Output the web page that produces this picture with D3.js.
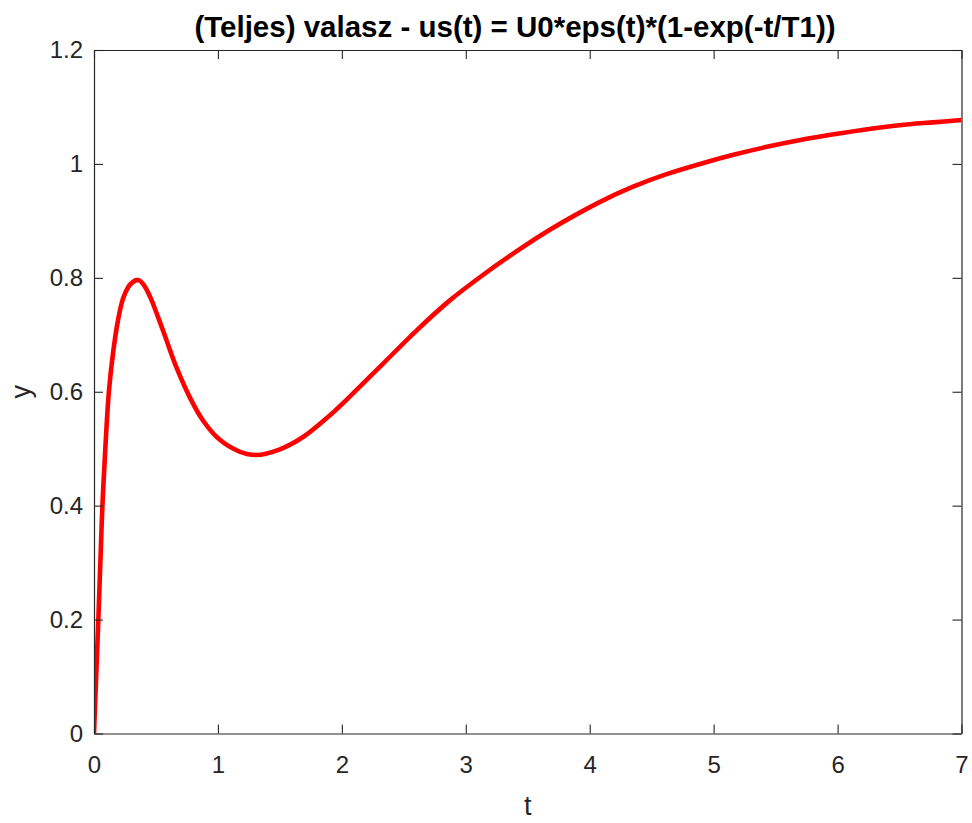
<!DOCTYPE html>
<html>
<head>
<meta charset="utf-8">
<script src="https://cdn.jsdelivr.net/npm/d3@7"></script>
<style>
  html, body { margin: 0; padding: 0; background: #fff; }
  svg { display: block; }
  text { font-family: "Liberation Sans", Arial, Helvetica, sans-serif; fill: #262626; }
</style>
</head>
<body>
<svg id="chart" width="972" height="823"></svg>
<script>
// ---- data ----
const tValues = [0, 0.006, 0.035, 0.052, 0.068, 0.09, 0.12, 0.153, 0.194, 0.235, 0.28, 0.31, 0.342, 0.37, 0.40,
  0.452, 0.556, 0.663, 0.771, 0.878, 1.013, 1.174, 1.309, 1.5, 1.69, 1.90, 2.062, 2.331,
  2.60, 2.869, 3.138, 3.406, 3.675, 4.08, 4.35, 4.62, 4.89, 5.16, 5.43, 5.70, 5.97,
  6.24, 6.50, 6.77, 7.0];
const yValues = [0, 0.035, 0.2, 0.305, 0.4, 0.495, 0.6, 0.667, 0.726, 0.764, 0.785, 0.792, 0.796, 0.795, 0.788,
  0.767, 0.708, 0.644, 0.591, 0.550, 0.516, 0.495, 0.489, 0.499, 0.521, 0.558, 0.591, 0.649,
  0.707, 0.760, 0.805, 0.846, 0.884, 0.933, 0.960, 0.982, 1.000, 1.016, 1.030, 1.042, 1.052,
  1.061, 1.068, 1.073, 1.077];
const xTicks = [0, 1, 2, 3, 4, 5, 6, 7];
const yTicks = [0, 0.2, 0.4, 0.6, 0.8, 1, 1.2];
const titleText = "(Teljes) valasz - us(t) = U0*eps(t)*(1-exp(-t/T1))";
const xLabel = "t";
const yLabel = "y";

// ---- layout ----
const pLeft = 94, pRight = 961.5, pTop = 50, pBottom = 733.5;
const svg = d3.select("#chart");
const x = d3.scaleLinear().domain([0, 7]).range([pLeft, pRight]);
const y = d3.scaleLinear().domain([0, 1.2]).range([pBottom, pTop]);
const axisColor = "#262626";
const tickLen = 9;

// clip
svg.append("defs").append("clipPath").attr("id", "plotclip")
  .append("rect").attr("x", pLeft).attr("y", pTop).attr("width", pRight - pLeft).attr("height", pBottom - pTop);

// curve
const data = tValues.map((t, i) => ({ t: t, v: yValues[i] }));
const line = d3.line().x(d => x(d.t)).y(d => y(d.v)).curve(d3.curveCatmullRom.alpha(0.5));
svg.append("path").datum(data)
  .attr("d", line)
  .attr("fill", "none")
  .attr("stroke", "#ff0000")
  .attr("stroke-width", 4.6)
  .attr("stroke-linejoin", "round")
  .attr("clip-path", "url(#plotclip)");

// axes (inward ticks, MATLAB box style)
function styleAxis(g) {
  g.select(".domain").attr("stroke", axisColor).attr("stroke-width", 1.2);
  g.selectAll(".tick line").attr("stroke", axisColor).attr("stroke-width", 1.1);
  g.selectAll(".tick text").attr("fill", axisColor)
    .style("font-family", "'Liberation Sans', Arial, Helvetica, sans-serif")
    .style("font-size", "24px");
}
const fmt = d => String(d);

const xAxisB = svg.append("g").attr("transform", `translate(0,${pBottom})`)
  .call(d3.axisBottom(x).tickValues(xTicks).tickFormat(fmt).tickSizeInner(-tickLen).tickSizeOuter(0).tickPadding(22));
styleAxis(xAxisB);

const xAxisT = svg.append("g").attr("transform", `translate(0,${pTop})`)
  .call(d3.axisTop(x).tickValues(xTicks).tickFormat("").tickSizeInner(-tickLen).tickSizeOuter(0));
styleAxis(xAxisT);

const yAxisL = svg.append("g").attr("transform", `translate(${pLeft},0)`)
  .call(d3.axisLeft(y).tickValues(yTicks).tickFormat(fmt).tickSizeInner(-tickLen).tickSizeOuter(0).tickPadding(11));
styleAxis(yAxisL);

const yAxisR = svg.append("g").attr("transform", `translate(${pRight},0)`)
  .call(d3.axisRight(y).tickValues(yTicks).tickFormat("").tickSizeInner(-tickLen).tickSizeOuter(0));
styleAxis(yAxisR);

// title
svg.append("text")
  .attr("x", 515).attr("y", 37)
  .attr("text-anchor", "middle")
  .style("font-size", "29.5px").style("font-weight", "bold")
  .style("fill", "#000")
  .text(titleText);

// axis labels
svg.append("text")
  .attr("x", (pLeft + pRight) / 2).attr("y", 815)
  .attr("text-anchor", "middle")
  .style("font-size", "27px")
  .text(xLabel);

svg.append("text")
  .attr("transform", `translate(30,${(pTop + pBottom) / 2}) rotate(-90)`)
  .attr("text-anchor", "middle")
  .style("font-size", "27px")
  .text(yLabel);
</script>
</body>
</html>
